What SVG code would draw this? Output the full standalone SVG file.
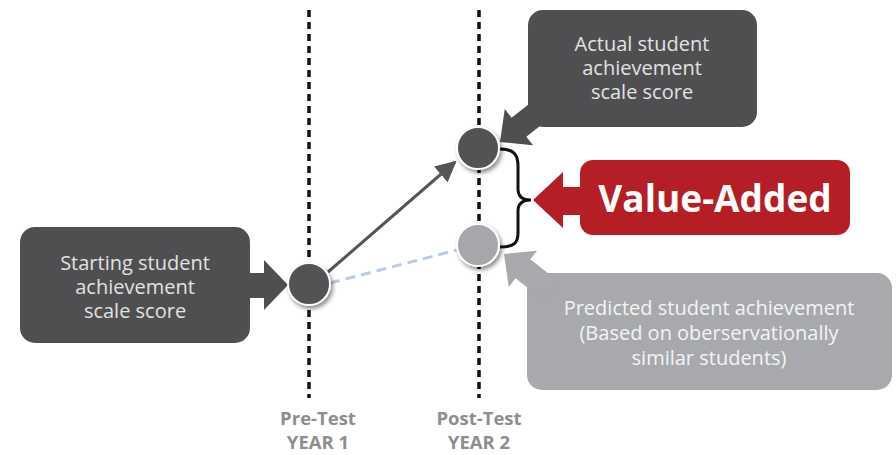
<svg xmlns="http://www.w3.org/2000/svg" width="896" height="455" viewBox="0 0 896 455">
  <defs>
    <style>
      .box-dark { fill: #4f4f51; }
      .box-light { fill: #a7a9ac; }
      .box-red { fill: #b41e24; }
      .box-text { font-family: "Open Sans", "Liberation Sans", sans-serif; font-size: 20px; text-anchor: middle; }
      .on-dark { fill: #e2e2e2; }
      .on-light { fill: #f4f4f4; }
      .va-text { font-family: "Open Sans", "Liberation Sans", sans-serif; font-size: 37px; font-weight: bold; fill: #ffffff; text-anchor: middle; }
      .axis-text { font-family: "Open Sans", "Liberation Sans", sans-serif; font-size: 18.5px; font-weight: bold; fill: #8e8e8e; text-anchor: middle; }
      .year-line { stroke: #111111; stroke-width: 3.5; stroke-dasharray: 7 5; fill: none; }
      .point { stroke: #ffffff; stroke-width: 2; filter: url(#shadow); }
      .point-dark { fill: #535355; }
      .point-light { fill: #a6a7aa; }
    </style>
    <filter id="shadow" x="-50%" y="-50%" width="200%" height="200%">
      <feDropShadow dx="2" dy="3" stdDeviation="2" flood-color="#000000" flood-opacity="0.45"/>
    </filter>
    <marker id="head" viewBox="0 0 10 10" refX="9" refY="5" markerWidth="7" markerHeight="7" markerUnits="strokeWidth" orient="auto">
      <path d="M0,0 L10,5 L0,10 z" fill="#555557"/>
    </marker>
    <!-- fat block arrow pointing along +x with its tip at the origin -->
    <polygon id="block-arrow" points="0,0 -24,-23 -24,-12 -62,-12 -62,12 -24,12 -24,23"/>
  </defs>

  <!-- connectors: year axes, growth arrow, predicted trend, brace -->
  <g id="connectors">
    <line class="year-line" x1="309" y1="10" x2="309" y2="398"/>
    <line class="year-line" x1="479" y1="10" x2="479" y2="398"/>
    <line x1="328" y1="272" x2="455" y2="162" stroke="#555557" stroke-width="3" marker-end="url(#head)"/>
    <line x1="330" y1="283" x2="457" y2="250" stroke="#b9cae8" stroke-width="3" stroke-dasharray="10 6"/>
    <path d="M500,149 C514,149 518,155 518,166 L518,189 C518,196 522,200 531,200 C522,200 518,204 518,211 L518,233 C518,243 514,247 500,247" fill="none" stroke="#111111" stroke-width="3"/>
  </g>

  <!-- starting score box -->
  <g id="start-box">
    <rect class="box-dark" x="20" y="227" width="230" height="116" rx="15"/>
    <polygon class="box-dark" points="248,273 264,273 264,260 288,285 264,310 264,298 248,298"/>
    <text class="box-text on-dark" x="135" y="270">Starting student</text>
    <text class="box-text on-dark" x="135" y="294">achievement</text>
    <text class="box-text on-dark" x="135" y="318">scale score</text>
  </g>

  <!-- actual score box -->
  <g id="actual-box">
    <rect class="box-dark" x="528" y="10" width="229" height="117" rx="15"/>
    <use href="#block-arrow" class="box-dark" transform="translate(500,142) rotate(142)"/>
    <text class="box-text on-dark" x="642" y="51">Actual student</text>
    <text class="box-text on-dark" x="642" y="75">achievement</text>
    <text class="box-text on-dark" x="642" y="99">scale score</text>
  </g>

  <!-- predicted score box -->
  <g id="predicted-box">
    <rect class="box-light" x="527" y="273" width="365" height="117" rx="15"/>
    <use href="#block-arrow" class="box-light" transform="translate(504,254) rotate(-142)"/>
    <text class="box-text on-light" x="709" y="315">Predicted student achievement</text>
    <text class="box-text on-light" x="709" y="340">(Based on oberservationally</text>
    <text class="box-text on-light" x="709" y="365">similar students)</text>
  </g>

  <!-- value-added callout -->
  <g id="value-added">
    <rect class="box-red" x="580" y="160" width="270" height="75" rx="13"/>
    <polygon class="box-red" points="533,200 563,172 563,187 582,187 582,215 563,215 563,228"/>
    <text class="va-text" x="715" y="212">Value-Added</text>
  </g>

  <!-- score points -->
  <g id="pretest-point">
    <circle class="point point-dark" cx="309" cy="284" r="21"/>
  </g>
  <g id="actual-point">
    <circle class="point point-dark" cx="478" cy="148" r="21"/>
  </g>
  <g id="predicted-point">
    <circle class="point point-light" cx="478" cy="245" r="21"/>
  </g>

  <!-- axis labels -->
  <g id="pretest-label">
    <text class="axis-text" x="318" y="425">Pre-Test</text>
    <text class="axis-text" x="318" y="449">YEAR 1</text>
  </g>
  <g id="posttest-label">
    <text class="axis-text" x="479" y="425">Post-Test</text>
    <text class="axis-text" x="479" y="449">YEAR 2</text>
  </g>
</svg>
